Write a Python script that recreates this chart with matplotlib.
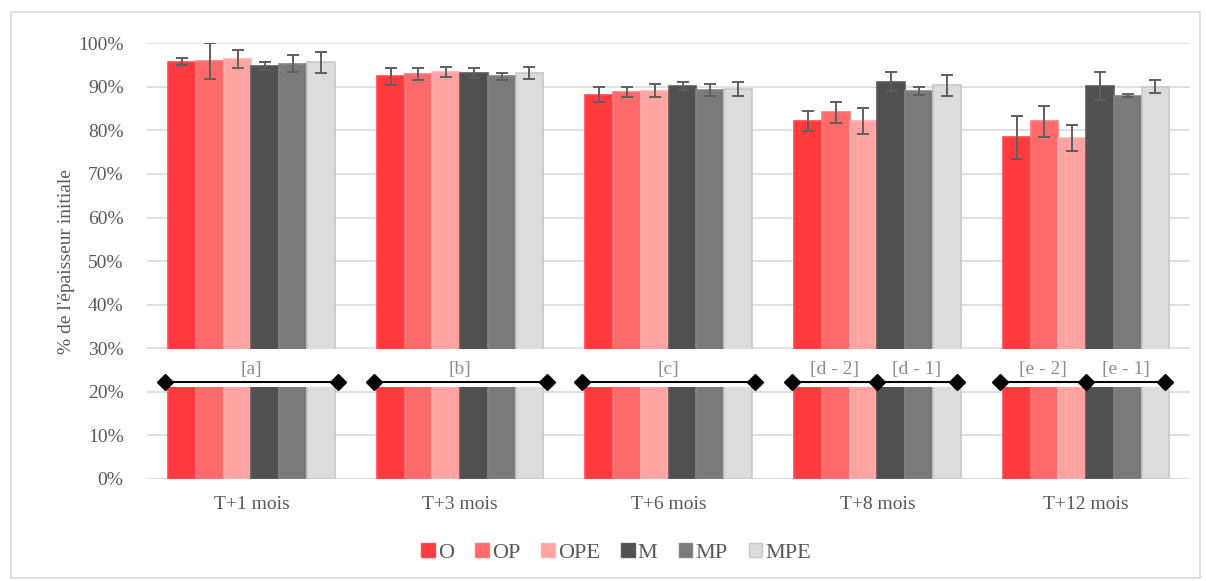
import matplotlib
matplotlib.use("Agg")
import matplotlib.pyplot as plt
from matplotlib.patches import Rectangle, Patch

plt.rcParams['font.family'] = ['Liberation Serif', 'DejaVu Serif']

# Data
categories = ["T+1 mois", "T+3 mois", "T+6 mois", "T+8 mois", "T+12 mois"]
series = ["O", "OP", "OPE", "M", "MP", "MPE"]

O   = [95.8, 92.4, 88.2, 82.1, 78.4]
OP  = [95.9, 92.9, 88.8, 84.2, 82.1]
OPE = [96.3, 93.4, 89.1, 82.1, 78.2]
M   = [94.8, 93.2, 90.2, 91.2, 90.2]
MP  = [95.3, 92.4, 89.3, 89.0, 88.0]
MPE = [95.6, 93.2, 89.6, 90.3, 90.0]

O_err   = [0.9, 1.9, 1.8, 2.3, 5.0]
OP_err  = [4.1, 1.3, 1.1, 2.4, 3.6]
OPE_err = [2.1, 1.2, 1.5, 3.0, 3.0]
M_err   = [0.9, 1.1, 1.0, 2.2, 3.3]
MP_err  = [1.9, 0.8, 1.4, 0.9, 0.3]
MPE_err = [2.4, 1.4, 1.6, 2.4, 1.5]

# significance groups per period (single group or two sub-groups)
groups = [["[a]"], ["[b]"], ["[c]"], ["[d - 2]", "[d - 1]"], ["[e - 2]", "[e - 1]"]]

values = [O, OP, OPE, M, MP, MPE]
errors = [O_err, OP_err, OPE_err, M_err, MP_err, MPE_err]
colors = ["#FF3B3F", "#FF6B6B", "#FFA3A3", "#505050", "#7A7A7A", "#DCDCDC"]
edges = ["#FF4A4E", "#FF7777", "#FFB0B0", "#5A5A5A", "#848484", "#C8C8C8"]

fig = plt.figure(figsize=(12.06, 5.81), dpi=100)
ax = fig.add_axes([0.122, 0.1756, 0.865, 0.750])

width = 0.133
for i, (vals, errs) in enumerate(zip(values, errors)):
    xs = [k + (i - 2.5) * width for k in range(len(categories))]
    ax.bar(xs, vals, width=width, color=colors[i], edgecolor=edges[i],
           linewidth=1.2, zorder=2, label=series[i])
    ax.errorbar(xs, vals, yerr=errs, fmt="none", ecolor="#5F5F5F",
                elinewidth=1.4, capsize=4.5, capthick=1.4, zorder=3)

# white break band across the bars
ax.add_patch(Rectangle((-0.41, 21.0), 4.93, 8.9, facecolor="white",
                       edgecolor="none", zorder=4))

# significance brackets
for k, labels in enumerate(groups):
    if len(labels) == 1:
        pts = [k - 0.415, k + 0.415]
    else:
        pts = [k - 0.41, k, k + 0.38]
    ax.plot(pts, [22.3] * len(pts), color="black", lw=1.5, marker="D",
            markersize=8, zorder=5, clip_on=False)
    for j, lab in enumerate(labels):
        ax.text((pts[j] + pts[j + 1]) / 2, 23.2, lab, ha="center",
                va="bottom", fontsize=14, color="#8C8C8C", zorder=6)

ax.set_xlim(-0.5, 4.5)
ax.set_ylim(0, 100)
ax.set_yticks(range(0, 101, 10))
ax.set_yticklabels([f"{t}%" for t in range(0, 101, 10)])
ax.set_xticks(range(len(categories)))
ax.set_xticklabels(categories)
ax.tick_params(axis="both", length=0, labelsize=14, colors="#595959")
ax.tick_params(axis="x", pad=12)
ax.tick_params(axis="y", pad=17)
ax.grid(axis="y", color="#D9D9D9", lw=1.2, zorder=0)
ax.set_axisbelow(True)
for s in ax.spines.values():
    s.set_visible(False)
ax.set_ylabel("% de l'épaisseur initiale", fontsize=14, color="#595959",
              labelpad=2)

handles = [Patch(facecolor=c, edgecolor=e) for c, e in zip(colors, edges)]
fig.legend(handles, series, loc="center", bbox_to_anchor=(0.511, 0.048),
           ncol=6, frameon=False, fontsize=16, handlelength=0.6,
           handleheight=0.6, handletextpad=0.15, columnspacing=0.95,
           labelcolor="#595959")

# chart border
fig.patches.append(Rectangle((0.009, 0.005), 0.986, 0.975,
                             transform=fig.transFigure, fill=False,
                             edgecolor="#D9D9D9", lw=1.2))

fig.savefig("out.png", dpi=100)
